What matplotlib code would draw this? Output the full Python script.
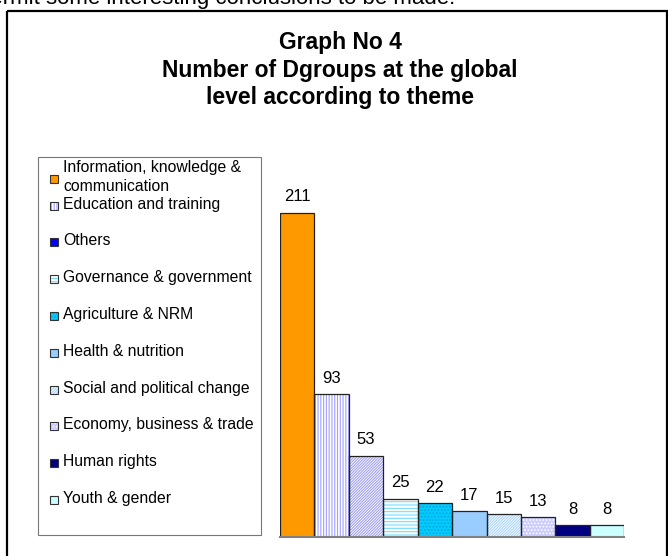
import numpy as np
import matplotlib.pyplot as plt
from matplotlib.patches import Rectangle

plt.rcParams['font.family'] = ['Liberation Sans', 'DejaVu Sans']
plt.rcParams['hatch.linewidth'] = 0.8

# data
themes = ['Information, knowledge &\ncommunication', 'Education and training', 'Others',
          'Governance & government', 'Agriculture & NRM', 'Health & nutrition',
          'Social and political change', 'Economy, business & trade', 'Human rights',
          'Youth & gender']
counts = [211, 93, 53, 25, 22, 17, 15, 13, 8, 8]

# styles (bar fill, hatch, hatch colour)
bar_faces = ['#FF9900', 'white', 'white', 'white', '#00CCFF', '#99CCFF', 'white', '#CCCCFF', '#000080', '#CCFFFF']
bar_hatches = [None, '||||||', '////////////', '-----', '.....', None, '////////////', '.....', None, None]
hatch_cols = ['none', '#A0A0FF', '#A0A0F5', '#70DDFF', '#0AA0D8', 'none', '#A8D4FF', 'white', 'none', 'none']
leg_faces = ['#FF9900', 'white', '#0000FF', 'white', '#00CCFF', '#99CCFF', 'white', '#CCCCFF', '#000080', '#CCFFFF']
leg_hatches = [None, '||||||', None, '-----', '.....', None, '////////////', '.....', None, None]

W, H = 668, 556
fig = plt.figure(figsize=(W / 100, H / 100), dpi=100)

# bar chart
ax = fig.add_axes([280 / W, 1 - 537.3 / H, 344.3 / W, 354 / H])
x = np.arange(len(counts))
bars = ax.bar(x, counts, width=1.0, color=bar_faces, linewidth=0)
for b, h, hc in zip(bars, bar_hatches, hatch_cols):
    b.set_edgecolor(hc)
    if h:
        b.set_hatch(h)
outline = ax.bar(x, counts, width=1.0, fill=False, edgecolor='#222222', linewidth=0.9)
ax.bar_label(outline, labels=[str(c) for c in counts], padding=6, fontsize=12)
ax.set_xlim(-0.5, len(counts) - 0.5)
ax.set_ylim(0, 230)
for s in ['left', 'right', 'top']:
    ax.spines[s].set_visible(False)
ax.spines['bottom'].set_color('#808080')
ax.spines['bottom'].set_linewidth(1.5)
ax.set_xticks([])
ax.set_yticks([])
ax.patch.set_alpha(0)

# overlay in pixel coords for frame, title and legend
lay = fig.add_axes([0, 0, 1, 1])
lay.set_xlim(0, W)
lay.set_ylim(H, 0)
lay.axis('off')

lay.text(455, 4, 'permit some interesting conclusions to be made.', ha='right', va='baseline',
         fontsize=16, clip_on=False)
lay.add_patch(Rectangle((7, 11), 660, 560, fill=False, ec='black', lw=1.6, clip_on=False))
lay.text(340, 70, 'Graph No 4\nNumber of Dgroups at the global\nlevel according to theme',
         ha='center', va='center', fontsize=16.5, fontweight='bold', linespacing=1.25)

# legend
lay.add_patch(Rectangle((38, 157), 223, 378, fill=False, ec='#777777', lw=0.8))
ys = [177] + [204 + 36.8 * k for k in range(len(themes) - 1)]
for i, (name, y) in enumerate(zip(themes, ys)):
    sq = Rectangle((50, y - 2.5), 8, 8, facecolor=leg_faces[i], lw=0,
                   edgecolor=hatch_cols[i] if leg_hatches[i] else 'none')
    if leg_hatches[i]:
        sq.set_hatch(leg_hatches[i])
    lay.add_patch(sq)
    lay.add_patch(Rectangle((50, y - 2.5), 8, 8, fill=False, ec='#333333', lw=0.8))
    lay.text(63, y, name, ha='left', va='center', fontsize=11.3, linespacing=1.3)

fig.savefig('out.png', dpi=100)
